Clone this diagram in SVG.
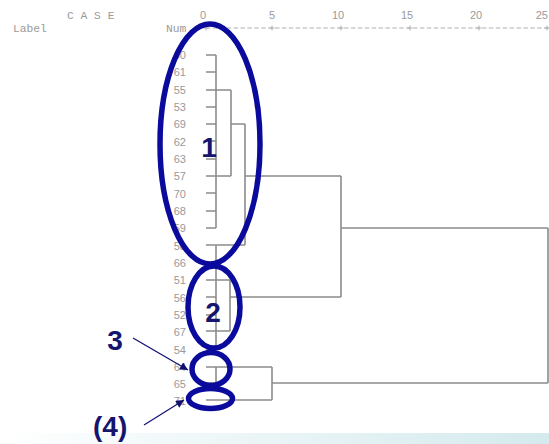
<svg xmlns="http://www.w3.org/2000/svg" width="549" height="444" viewBox="0 0 549 444">
<defs>
<linearGradient id="bg" x1="0" y1="0" x2="1" y2="0">
<stop offset="0" stop-color="#ffffff"/>
<stop offset="1" stop-color="#d4eaed"/>
</linearGradient>
<marker id="ah" viewBox="0 0 10 10" refX="10" refY="5" markerWidth="10" markerHeight="8" markerUnits="userSpaceOnUse" orient="auto">
<path d="M0,0 L10,5 L0,10 z" fill="#10106e"/>
</marker>
<style>
.mono{font-family:"Liberation Mono","DejaVu Sans Mono",monospace;font-size:11.3px;fill:#9a9a9a}
.ax{font-family:"Liberation Sans",Arial,sans-serif;font-size:11px;fill:#9a9a9a;text-anchor:middle}
.num{font-family:"Liberation Sans",Arial,sans-serif;font-size:11px;fill:#999999;text-anchor:end}
.tree{fill:none;stroke:#8c8c8c;stroke-width:1.6}
.axis{fill:none;stroke:#b0b0b0;stroke-width:1}
.ring{fill:none;stroke:#0a0a9c;stroke-width:5.5}
.big{font-family:"Liberation Sans",Arial,sans-serif;font-weight:bold;font-size:28px;fill:#15156e}
.arr{stroke:#10106e;stroke-width:1.2;fill:none}
</style>
</defs>
<rect x="0" y="0" width="549" height="444" fill="#ffffff"/>
<rect x="0" y="433" width="549" height="11" fill="url(#bg)"/>

<g id="header">
<text class="mono" x="67" y="19">C A S E</text>
<text class="mono" x="13" y="32">Label</text>
<text class="mono" x="166" y="32">Num</text>
<text class="ax" x="203" y="19">0</text>
<text class="ax" x="272" y="19">5</text>
<text class="ax" x="338" y="19">10</text>
<text class="ax" x="407" y="19">15</text>
<text class="ax" x="476" y="19">20</text>
<text class="ax" x="548" y="19" style="text-anchor:end">25</text>
<path class="axis" d="M206,28 H549" stroke-dasharray="4.5,2.4"/>
<path class="axis" d="M206,25.5 v5 M272,25.5 v5 M341,25.5 v5 M410,25.5 v5 M479,25.5 v5 M547,25.5 v5 M203.5,28 h5 M269.5,28 h5 M338.5,28 h5 M407.5,28 h5 M476.5,28 h5 M544.5,28 h5"/>
</g>

<g id="labels">
<text class="num" x="186" y="59">60</text>
<text class="num" x="186" y="76">61</text>
<text class="num" x="186" y="94">55</text>
<text class="num" x="186" y="111">53</text>
<text class="num" x="186" y="128">69</text>
<text class="num" x="186" y="146">62</text>
<text class="num" x="186" y="163">63</text>
<text class="num" x="186" y="180">57</text>
<text class="num" x="186" y="198">70</text>
<text class="num" x="186" y="215">68</text>
<text class="num" x="186" y="232">59</text>
<text class="num" x="186" y="250">58</text>
<text class="num" x="186" y="267">66</text>
<text class="num" x="186" y="284">51</text>
<text class="num" x="186" y="302">56</text>
<text class="num" x="186" y="319">52</text>
<text class="num" x="186" y="336">67</text>
<text class="num" x="186" y="354">54</text>
<text class="num" x="186" y="371">64</text>
<text class="num" x="186" y="388">65</text>
<text class="num" x="186" y="405">71</text>
</g>

<g id="connectors">
<path class="tree" d="M206,55 H216 M206,72 H216 M206,90 H231 M206,107 H216 M206,124 H216 M206,141 H216 M206,159 H216 M206,176 H231 M206,193 H216 M206,211 H216 M206,228 H216 M216,55 V228"/>
<path class="tree" d="M231,90 V176 M231,124 H245 M245,124 V245 M245,176 H341"/>
<path class="tree" d="M206,245 H245 M206,263 H216 M206,280 H230 M206,297 H216 M206,315 H216 M206,331 H230 M206,349 H216 M216,245 V349 M230,280 V331 M230,297 H341"/>
<path class="tree" d="M341,176 V297 M341,228 H548 M548,228 V383"/>
<path class="tree" d="M206,367 H272 M206,383 H216 M216,367 V383 M206,400 H272 M272,367 V400 M272,383 H548"/>
</g>

<g id="cluster1">
<ellipse class="ring" cx="210" cy="144" rx="50" ry="120"/>
<text class="big" x="209" y="157" text-anchor="middle">1</text>
</g>
<g id="cluster2">
<ellipse class="ring" cx="214" cy="307" rx="26" ry="41"/>
<text class="big" x="213" y="322" text-anchor="middle">2</text>
</g>
<g id="cluster3">
<ellipse class="ring" cx="211" cy="369" rx="19" ry="16.5"/>
<text class="big" x="115" y="350" text-anchor="middle">3</text>
<line class="arr" x1="133" y1="338" x2="188" y2="370" marker-end="url(#ah)"/>
</g>
<g id="cluster4">
<ellipse class="ring" cx="210.5" cy="398.5" rx="22" ry="10"/>
<text class="big" x="93" y="436">(4)</text>
<line class="arr" x1="144" y1="425" x2="184" y2="400" marker-end="url(#ah)"/>
</g>
</svg>
